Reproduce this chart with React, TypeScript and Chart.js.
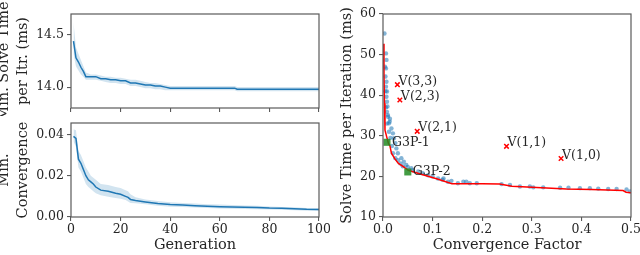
import React, { useEffect, useRef } from 'react';
import { Chart, registerables } from 'chart.js';
Chart.register(...registerables);

// ---------- data: top-left (min solve time per iteration) ----------
const genTop = [1, 2, 3, 4, 5, 6, 7, 8, 10, 12, 14, 16, 18, 20, 22, 24, 26, 28, 30, 32, 34, 36, 38, 40, 50, 60, 66, 67, 70, 80, 90, 100];
const solveMean = [14.44, 14.28, 14.24, 14.19, 14.15, 14.10, 14.10, 14.10, 14.10, 14.08, 14.08, 14.07, 14.07, 14.06, 14.06, 14.04, 14.04, 14.03, 14.02, 14.02, 14.01, 14.01, 14.00, 13.99, 13.99, 13.99, 13.99, 13.98, 13.98, 13.98, 13.98, 13.98];
const solveUpper = [14.62, 14.38, 14.32, 14.26, 14.20, 14.14, 14.13, 14.12, 14.12, 14.11, 14.10, 14.10, 14.09, 14.09, 14.08, 14.07, 14.07, 14.06, 14.05, 14.04, 14.04, 14.03, 14.02, 14.01, 14.01, 14.01, 14.01, 14.00, 14.00, 14.00, 14.00, 14.00];
const solveLower = [14.32, 14.20, 14.16, 14.12, 14.10, 14.07, 14.07, 14.07, 14.07, 14.06, 14.05, 14.04, 14.04, 14.03, 14.03, 14.01, 14.01, 14.00, 13.99, 13.99, 13.98, 13.98, 13.97, 13.97, 13.97, 13.97, 13.97, 13.96, 13.96, 13.96, 13.96, 13.96];

// ---------- data: bottom-left (min convergence) ----------
const genBot = [1, 2, 3, 4, 5, 6, 7, 8, 9, 10, 12, 15, 18, 20, 22, 23, 24, 26, 30, 35, 40, 45, 50, 55, 60, 65, 70, 75, 80, 85, 90, 95, 100];
const convMean = [0.039, 0.038, 0.028, 0.026, 0.023, 0.020, 0.018, 0.017, 0.016, 0.0145, 0.013, 0.0125, 0.0115, 0.011, 0.010, 0.0095, 0.0085, 0.008, 0.0073, 0.0065, 0.006, 0.0058, 0.0055, 0.0052, 0.005, 0.0049, 0.0047, 0.0046, 0.0043, 0.0042, 0.004, 0.0037, 0.0036];
const convUpper = [0.0425, 0.042, 0.032, 0.030, 0.027, 0.024, 0.022, 0.020, 0.019, 0.018, 0.016, 0.0155, 0.0145, 0.014, 0.013, 0.0125, 0.011, 0.0095, 0.0085, 0.0077, 0.0072, 0.0068, 0.0065, 0.0062, 0.006, 0.0058, 0.0056, 0.0054, 0.0051, 0.0049, 0.0047, 0.0044, 0.0043];
const convLower = [0.0365, 0.034, 0.024, 0.022, 0.019, 0.016, 0.0145, 0.0135, 0.0125, 0.0115, 0.0105, 0.0098, 0.0092, 0.0088, 0.0082, 0.0075, 0.0068, 0.0066, 0.0062, 0.0055, 0.005, 0.0049, 0.0046, 0.0043, 0.0041, 0.004, 0.0039, 0.0038, 0.0036, 0.0035, 0.0033, 0.003, 0.003];

// ---------- data: right (solve time vs convergence factor) ----------
const scatterCF = [0.003, 0.006, 0.007, 0.006, 0.005, 0.007, 0.006, 0.008, 0.007, 0.008, 0.009, 0.008, 0.010, 0.014, 0.012, 0.010, 0.0135, 0.017, 0.020, 0.022, 0.025, 0.027, 0.030, 0.037, 0.042, 0.047, 0.057, 0.071, 0.091, 0.111, 0.122, 0.131, 0.138, 0.151, 0.162, 0.168, 0.175, 0.189, 0.239, 0.256, 0.276, 0.296, 0.303, 0.323, 0.357, 0.374, 0.397, 0.417, 0.434, 0.454, 0.471, 0.491, 0.498, 0.004, 0.005, 0.006, 0.008, 0.012, 0.015, 0.018, 0.020, 0.025, 0.030, 0.035, 0.040, 0.050, 0.060, 0.080, 0.100, 0.120];
const scatterST = [55.2, 50.3, 48.7, 46.6, 44.6, 43.3, 42.1, 40.9, 39.6, 38.4, 37.2, 35.9, 34.7, 34.2, 33.1, 35.1, 33.5, 31.8, 30.6, 29.4, 28.2, 26.9, 25.7, 24.5, 23.6, 22.8, 22.0, 21.2, 20.3, 19.5, 19.5, 18.7, 18.9, 18.3, 18.7, 18.7, 18.3, 18.3, 18.1, 17.9, 17.5, 17.5, 17.3, 17.3, 17.2, 17.2, 17.1, 17.1, 17.0, 16.9, 16.9, 16.8, 16.3, 47.0, 41.0, 37.0, 33.0, 31.0, 29.5, 27.5, 25.7, 24.5, 24.0, 23.2, 22.5, 22.3, 21.5, 20.8, 20.0, 19.2];
const frontCF = [0.001, 0.002, 0.003, 0.004, 0.008, 0.011, 0.014, 0.017, 0.024, 0.031, 0.041, 0.051, 0.075, 0.108, 0.139, 0.2, 0.235, 0.26, 0.3, 0.37, 0.42, 0.484, 0.49, 0.5];
const frontST = [52.7, 45, 38, 31.4, 29.5, 28.1, 27.5, 25.7, 24.3, 23.2, 22.4, 21.5, 20.6, 19.4, 18.2, 18.2, 18.1, 17.6, 17.3, 16.9, 16.8, 16.5, 16.1, 16.0];
const varNames = ['V(3,3)', 'V(2,3)', 'V(2,1)', 'V(1,1)', 'V(1,0)'];
const varCF = [0.029, 0.034, 0.069, 0.249, 0.359];
const varST = [42.6, 38.8, 31.1, 27.4, 24.4];
const g3pNames = ['G3P-1', 'G3P-2'];
const g3pCF = [0.008, 0.050];
const g3pST = [28.4, 21.1];

// ---------- tick labels ----------
const solveTicks = [14.0, 14.5];
const convTicks = [0, 0.02, 0.04];
const genTicks = [0, 20, 40, 60, 80, 100];
const cfTicks = [0, 0.1, 0.2, 0.3, 0.4, 0.5];
const stTicks = [10, 20, 30, 40, 50, 60];

const FONT = '"DejaVu Serif", serif';
const TEXT = '#262626';
const SPINE = '#5a5a5a';
const BLUE = '#1f77b4';

const pts = (xs: number[], ys: number[]) => xs.map((x, i) => ({ x, y: ys[i] }));

const boxPlugin = {
  id: 'box',
  afterDatasetsDraw(chart: any) {
    const { ctx, chartArea: a } = chart;
    ctx.save();
    ctx.strokeStyle = SPINE;
    ctx.lineWidth = 1.2;
    ctx.strokeRect(a.left, a.top, a.right - a.left, a.bottom - a.top);
    ctx.restore();
  },
};

const labelPlugin = {
  id: 'ptLabels',
  afterDatasetsDraw(chart: any) {
    const { ctx } = chart;
    chart.data.datasets.forEach((ds: any, i: number) => {
      if (!ds.pointLabels) return;
      const meta = chart.getDatasetMeta(i);
      ctx.save();
      ctx.font = `12.5px ${FONT}`;
      ctx.fillStyle = TEXT;
      ctx.textAlign = 'left';
      ctx.textBaseline = ds.labelBaseline;
      meta.data.forEach((el: any, j: number) => {
        ctx.fillText(ds.pointLabels[j], el.x + ds.labelDx, el.y + ds.labelDy);
      });
      ctx.restore();
    });
  },
};

function axis(opts: {
  min: number; max: number; ticks: number[]; dec: number; size: number;
  horizontal: boolean; title?: string | string[]; titlePad?: number; showLabels?: boolean;
}) {
  const { min, max, ticks, dec, size, horizontal, title, titlePad = 0, showLabels = true } = opts;
  return {
    type: 'linear',
    min, max,
    afterBuildTicks: (s: any) => { s.ticks = ticks.map((v) => ({ value: v })); },
    afterFit: (s: any) => {
      if (horizontal) s.height = size; else s.width = size;
      s.paddingLeft = 0; s.paddingRight = 0; s.paddingTop = 0; s.paddingBottom = 0;
    },
    ticks: {
      display: showLabels,
      autoSkip: false,
      maxRotation: 0,
      callback: (v: any) => Number(v).toFixed(dec),
      font: { family: FONT, size: 12.5 },
      color: TEXT,
      padding: horizontal ? 1 : 3,
    },
    grid: { drawOnChartArea: false, drawTicks: true, tickLength: 4, color: SPINE, lineWidth: 1.1 },
    border: { display: false },
    title: {
      display: !!title,
      text: title || '',
      font: { family: FONT, size: 14.5, lineHeight: 1.3 },
      color: TEXT,
      padding: { top: titlePad, bottom: horizontal ? titlePad : 0 },
    },
  };
}

function bandDatasets(xs: number[], mean: number[], lo: number[], hi: number[]) {
  return [
    { data: pts(xs, mean), borderColor: BLUE, borderWidth: 1.5, pointRadius: 0, fill: false, order: 0 },
    { data: pts(xs, lo), borderWidth: 0, borderColor: 'transparent', pointRadius: 0, fill: false, order: 2 },
    { data: pts(xs, hi), borderWidth: 0, borderColor: 'transparent', pointRadius: 0, fill: '-1', backgroundColor: 'rgba(31,119,180,0.2)', order: 1 },
  ];
}

const baseOptions = (padding: any, scales: any) => ({
  responsive: false,
  animation: false,
  layout: { padding },
  plugins: { legend: { display: false }, tooltip: { enabled: false } },
  elements: { line: { tension: 0 } },
  scales,
});

function useChart(ref: React.RefObject<HTMLCanvasElement>, make: () => any) {
  useEffect(() => {
    if (!ref.current) return;
    const c = new Chart(ref.current, make());
    return () => c.destroy();
  }, []);
}

export default function App() {
  const r1 = useRef<HTMLCanvasElement>(null);
  const r2 = useRef<HTMLCanvasElement>(null);
  const r3 = useRef<HTMLCanvasElement>(null);

  useChart(r1, () => ({
    type: 'line',
    data: { datasets: bandDatasets(genTop, solveMean, solveLower, solveUpper) },
    options: baseOptions({ top: 14, right: 11, left: 0, bottom: 0 }, {
      x: axis({ min: 0, max: 100, ticks: genTicks, dec: 0, size: 8, horizontal: true, showLabels: false }),
      y: axis({ min: 13.8, max: 14.7, ticks: solveTicks, dec: 1, size: 71, horizontal: false, title: ['Min. Solve Time', 'per Itr. (ms)'], titlePad: -4.7 }),
    }),
    plugins: [boxPlugin],
  }));

  useChart(r2, () => ({
    type: 'line',
    data: { datasets: bandDatasets(genBot, convMean, convLower, convUpper) },
    options: baseOptions({ top: 13, right: 11, left: 0, bottom: 0 }, {
      x: axis({ min: 0, max: 100, ticks: genTicks, dec: 0, size: 38, horizontal: true, title: 'Generation', titlePad: 0 }),
      y: axis({ min: 0, max: 0.0455, ticks: convTicks, dec: 2, size: 71, horizontal: false, title: ['Min.', 'Convergence'], titlePad: -5 }),
    }),
    plugins: [boxPlugin],
  }));

  useChart(r3, () => ({
    type: 'scatter',
    data: {
      datasets: [
        {
          data: pts(varCF, varST), pointStyle: 'crossRot', pointRadius: 3.2, borderColor: '#ff0000', borderWidth: 1.5,
          backgroundColor: '#ff0000', pointLabels: varNames, labelDx: 1, labelDy: 0, labelBaseline: 'alphabetic',
        },
        {
          data: pts(g3pCF, g3pST), pointStyle: 'rect', pointRadius: 5, borderWidth: 0,
          backgroundColor: 'rgba(34,139,34,0.85)', pointLabels: g3pNames, labelDx: 5, labelDy: 0, labelBaseline: 'middle',
        },
        { data: pts(frontCF, frontST), showLine: true, borderColor: '#ff0000', borderWidth: 1.5, pointRadius: 0 },
        { data: pts(scatterCF, scatterST), pointRadius: 2.2, borderWidth: 0, backgroundColor: 'rgba(31,119,180,0.55)' },
      ],
    },
    options: baseOptions({ top: 14, right: 9, left: 0, bottom: 0 }, {
      x: axis({ min: 0, max: 0.5, ticks: cfTicks, dec: 1, size: 38, horizontal: true, title: 'Convergence Factor', titlePad: 0 }),
      y: axis({ min: 10, max: 60, ticks: stTicks, dec: 0, size: 53, horizontal: false, title: 'Solve Time per Iteration (ms)', titlePad: 7.6 }),
    }),
    plugins: [boxPlugin, labelPlugin],
  }));

  return (
    <div style={{ position: 'absolute', left: 0, top: 0, width: 640, height: 255, background: '#fff', overflow: 'hidden' }}>
      <canvas ref={r1} width={330} height={116} style={{ position: 'absolute', left: 0, top: 0 }} />
      <canvas ref={r2} width={330} height={145} style={{ position: 'absolute', left: 0, top: 110 }} />
      <canvas ref={r3} width={310} height={255} style={{ position: 'absolute', left: 330, top: 0 }} />
    </div>
  );
}
